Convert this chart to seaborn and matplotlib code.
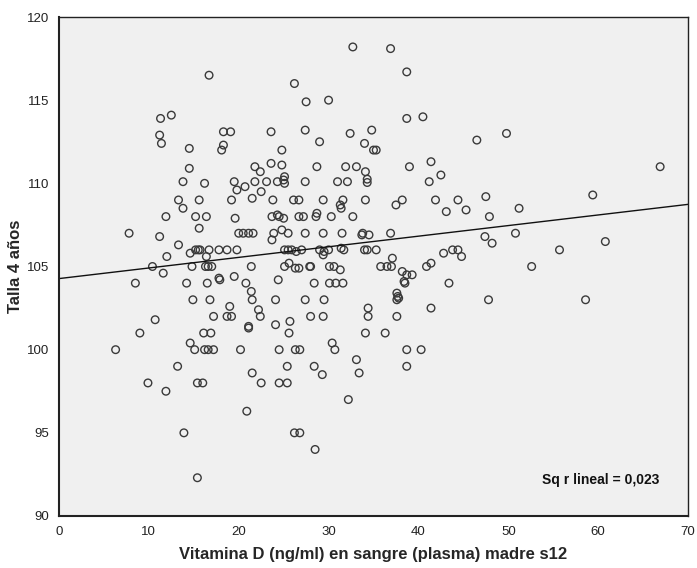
import matplotlib
matplotlib.use("Agg")
import matplotlib.pyplot as plt
import seaborn as sns
import numpy as np
import pandas as pd

vitd = [
    16.7, 11.3, 12.5, 11.2, 11.4, 14.5, 18.3, 19.1, 18.3, 18.1, 14.5, 13.8, 16.2, 19.5,
    32.7, 36.9, 38.7, 26.2, 27.5, 30.0, 38.7, 23.6, 27.4, 32.4, 34.8, 29.0, 24.8, 34.0,
    35.0, 35.3, 21.8, 22.4, 23.6, 24.8, 28.7, 31.9, 33.1, 34.1, 39.0, 25.1, 25.0, 25.1,
    20.7, 21.8, 23.1, 24.3, 27.4, 31.0, 32.1, 34.3, 34.3,
    40.5, 46.5, 49.8, 41.4, 42.5, 41.2, 66.9,
    19.8, 13.3, 13.8, 15.6, 19.2, 11.9, 15.2, 16.4, 19.6, 15.6, 7.8, 11.2, 13.3, 20.0,
    15.2, 15.5, 15.7, 16.7, 17.8, 18.7, 19.8, 14.6, 16.4, 12.0, 10.4, 14.8, 16.3, 16.6,
    17.0, 11.6, 8.5, 14.2, 16.5, 17.8, 17.9, 19.5, 14.9, 16.8, 19.0, 17.2, 18.7, 19.2,
    10.7, 9.0, 16.1, 16.9, 14.6,
    6.3, 15.1, 16.2, 16.6, 17.2, 20.2, 13.2, 9.9, 11.9, 15.4, 16.0, 13.9, 15.4,
    30.4, 24.5, 26.3, 26.8, 30.7, 38.7, 33.1, 38.7, 25.4, 28.4, 29.3, 33.4, 21.5, 22.5,
    24.5, 25.4, 32.2, 20.9, 26.2, 26.8, 28.5,
    40.3,
    38.2, 41.9, 44.4, 47.5, 59.4, 43.1, 45.3, 47.9, 51.2, 47.4, 48.2, 50.8, 60.8, 42.8,
    43.8, 44.4, 44.8, 55.7, 40.9, 41.4, 52.6, 38.2, 38.7, 39.3, 38.5, 38.4, 43.4, 41.4,
    47.8, 58.6,
    22.5, 21.5, 23.8, 26.1, 26.7, 29.4, 31.6, 34.1, 37.5, 31.3, 31.4, 23.7, 24.3, 24.5,
    25.0, 26.7, 27.2, 28.7, 28.6, 30.3, 32.7, 20.5, 21.1, 21.6, 23.9, 24.8, 25.5, 27.4,
    29.4, 31.5, 33.7, 33.8, 34.5, 36.9, 23.7, 25.1, 25.5, 25.9, 26.4, 27.0, 29.0, 29.5,
    30.0, 31.4, 31.7, 34.0, 34.3, 35.3, 29.4, 37.1, 21.4, 25.1, 25.6, 26.3, 26.7, 27.9,
    28.0, 30.1, 30.6, 31.3, 35.8, 36.5, 37.0, 20.8, 24.4, 28.4, 30.1, 30.8, 31.6, 21.4,
    21.5, 24.1, 27.4, 29.5, 37.6, 37.7, 37.6, 37.8, 22.2, 22.4, 24.1, 25.7, 25.6, 21.1,
    21.1, 28.0, 29.4, 34.4, 34.4, 37.6, 34.1, 36.3,
]

talla = [
    116.5, 113.9, 114.1, 112.9, 112.4, 112.1, 113.1, 113.1, 112.3, 112.0, 110.9, 110.1, 110.0, 110.1,
    118.2, 118.1, 116.7, 116.0, 114.9, 115.0, 113.9, 113.1, 113.2, 113.0, 113.2, 112.5, 112.0, 112.4,
    112.0, 112.0, 111.0, 110.7, 111.2, 111.1, 111.0, 111.0, 111.0, 110.7, 111.0, 110.4, 110.2, 110.0,
    109.8, 110.1, 110.1, 110.1, 110.1, 110.1, 110.1, 110.25, 110.05,
    114.0, 112.6, 113.0, 111.3, 110.5, 110.1, 111.0,
    109.6, 109.0, 108.5, 109.0, 109.0, 108.0, 108.0, 108.0, 107.9, 107.3, 107.0, 106.8, 106.3, 107.0,
    106.0, 106.0, 106.0, 106.0, 106.0, 106.0, 106.0, 105.8, 105.6, 105.6, 105.0, 105.0, 105.0, 105.0,
    105.0, 104.6, 104.0, 104.0, 104.0, 104.3, 104.2, 104.4, 103.0, 103.0, 102.6, 102.0, 102.0, 102.0,
    101.8, 101.0, 101.0, 101.0, 100.4,
    100.0, 100.0, 100.0, 100.0, 100.0, 100.0, 99.0, 98.0, 97.5, 98.0, 98.0, 95.0, 92.3,
    100.4, 100.0, 100.0, 100.0, 100.0, 100.0, 99.4, 99.0, 99.0, 99.0, 98.5, 98.6, 98.6, 98.0,
    98.0, 98.0, 97.0, 96.3, 95.0, 95.0, 94.0,
    100.0,
    109.0, 109.0, 109.0, 109.2, 109.3, 108.3, 108.4, 108.0, 108.5, 106.8, 106.4, 107.0, 106.5, 105.8,
    106.0, 106.0, 105.6, 106.0, 105.0, 105.2, 105.0, 104.7, 104.5, 104.5, 104.0, 104.1, 104.0, 102.5,
    103.0, 103.0,
    109.5, 109.1, 109.0, 109.0, 109.0, 109.0, 109.0, 109.0, 108.7, 108.7, 108.5, 108.0, 108.1, 108.0,
    107.9, 108.0, 108.0, 108.2, 108.0, 108.0, 108.0, 107.0, 107.0, 107.0, 107.0, 107.2, 107.0, 107.0,
    107.0, 107.0, 106.9, 107.0, 106.9, 107.0, 106.6, 106.0, 106.0, 106.0, 105.9, 106.0, 106.0, 105.9,
    106.0, 106.1, 106.0, 106.0, 106.0, 106.0, 105.7, 105.5, 105.0, 105.0, 105.2, 104.9, 104.9, 105.0,
    105.0, 105.0, 105.0, 104.8, 105.0, 105.0, 105.0, 104.0, 104.2, 104.0, 104.0, 104.0, 104.0, 103.5,
    103.0, 103.0, 103.0, 103.0, 103.4, 103.2, 103.0, 103.1, 102.4, 102.0, 101.5, 101.7, 101.0, 101.4,
    101.3, 102.0, 102.0, 102.5, 102.0, 102.0, 101.0, 101.0,
]

x_ticks = [0, 10, 20, 30, 40, 50, 60, 70]
y_ticks = [90, 95, 100, 105, 110, 115, 120]
x_label = "Vitamina D (ng/ml) en sangre (plasma) madre s12"
y_label = "Talla 4 años"
r2_text = "Sq r lineal = 0,023"

df = pd.DataFrame({"vitd": vitd, "talla": talla})

sns.set_style("white")
plt.rcParams["font.family"] = ["Liberation Sans", "DejaVu Sans"]

fig = plt.figure(figsize=(6.97, 5.68), dpi=100)
ax = fig.add_axes([59 / 697, 1 - 516 / 568, (688 - 59) / 697, (516 - 17) / 568])
ax.set_facecolor("#f0f0f0")
ax.set_xlim(0, 70)
ax.set_ylim(90, 120)

sns.scatterplot(data=df, x="vitd", y="talla", ax=ax, s=30, marker="o",
                facecolor="none", edgecolor="#3a3a3a", linewidth=1.0)
sns.regplot(data=df, x="vitd", y="talla", ax=ax, scatter=False, ci=None,
            truncate=False, line_kws=dict(color="#111111", linewidth=1.0))

ax.set_xlim(0, 70)
ax.set_ylim(90, 120)
ax.set_xticks(x_ticks)
ax.set_yticks(y_ticks)
ax.tick_params(axis="both", direction="out", length=5, width=1, color="#333333",
               labelsize=9.5, labelcolor="#222222", pad=2)
for sp in ax.spines.values():
    sp.set_color("#222222")
    sp.set_linewidth(1.0)
ax.spines["left"].set_linewidth(1.5)
ax.spines["bottom"].set_linewidth(1.5)

ax.set_xlabel(x_label, fontsize=12, fontweight="bold", labelpad=7)
ax.set_ylabel(y_label, fontsize=12, fontweight="bold", labelpad=3)
ax.text(0.955, 0.072, r2_text, transform=ax.transAxes, ha="right", va="center",
        fontsize=10, fontweight="bold", color="#111111")

fig.savefig("out.png", dpi=100)
